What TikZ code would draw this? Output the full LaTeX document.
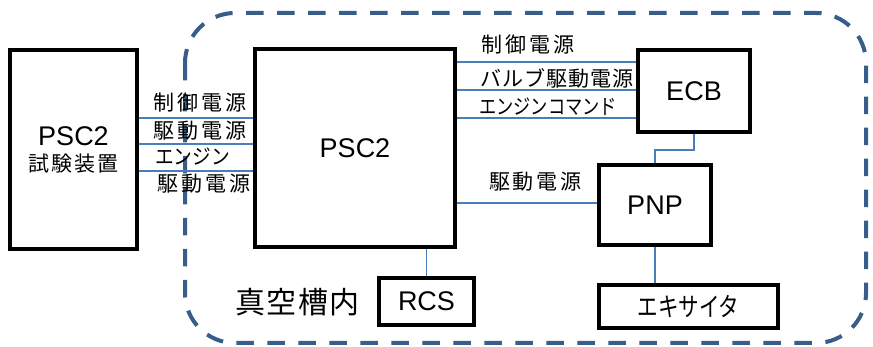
\documentclass[tikz,border=0pt]{standalone}
\usepackage{fontspec}
\usepackage{graphicx}
\setmainfont{Liberation Sans}
\newfontfamily\jpf{Noto Sans CJK JP}
\usetikzlibrary{calc}
\definecolor{conn}{HTML}{4A7EBB}
\definecolor{dashc}{HTML}{385D8A}
\newcommand\jtxt[4]{\scalebox{#3}[1]{\jpf\fontsize{#1}{#1}\selectfont\addfontfeature{LetterSpace=#2}#4}}
\begin{document}
\begin{tikzpicture}[x=1pt,y=-1pt,
  box/.style={draw=black,line width=3.6pt,fill=white,inner sep=0pt,font=\fontsize{27}{30}\selectfont},
  conline/.style={draw=conn,line width=1.5pt},
  lab/.style={inner sep=0pt,anchor=west}]
\useasboundingbox (0,0) rectangle (873,347);
% vacuum chamber outline
\draw[dashc,line width=4pt,dash pattern=on 17.5pt off 13.5pt,rounded corners=50pt] (185,13) rectangle (866,343);
% boxes
\node[box,minimum width=127pt,minimum height=199pt,align=center] (L) at (73.5,149.5)
  {PSC2\\[-4pt]\jtxt{21}{9}{1}{試験装置}};
\node[box,minimum width=200pt,minimum height=198pt] (P) at (355,148) {PSC2};
\node[box,minimum width=112pt,minimum height=82pt] (E) at (694,91) {ECB};
\node[box,minimum width=112pt,minimum height=80pt] (N) at (655,205) {PNP};
\node[box,minimum width=95pt,minimum height=47pt] (R) at (426.5,301.5) {RCS};
\node[box,minimum width=179pt,minimum height=43pt] (X) at (688.5,306.5) {\jtxt{26}{0}{0.79}{エキサイタ}};
\node[lab] (V) at (235,302) {\jtxt{30}{5}{1}{真空槽内}};
% left connectors
\draw[conline] (L.east |- 0,118) -- (P.west |- 0,118);
\draw[conline] (L.east |- 0,144) -- (P.west |- 0,144);
\draw[conline] (L.east |- 0,171) -- (P.west |- 0,171);
\node[lab] (l1) at (153,103) {\jtxt{21}{14}{1}{制御電源}};
\node[lab] (l2) at (153,131) {\jtxt{21}{14}{1}{駆動電源}};
\node[lab] (l3) at (155,157) {\jtxt{21}{0}{0.89}{エンジン}};
\node[lab] (l4) at (157,184) {\jtxt{21}{14}{1}{駆動電源}};
% right connectors
\draw[conline] (P.east |- 0,62) -- (E.west |- 0,62);
\draw[conline] (P.east |- 0,90) -- (E.west |- 0,90);
\draw[conline] (P.east |- 0,118) -- (E.west |- 0,118);
\draw[conline] (P.east |- 0,203) -- (N.west |- 0,203);
\node[lab] (r1) at (481,45) {\jtxt{21}{14}{1}{制御電源}};
\node[lab] (r2) at (480,78) {\jtxt{21}{5}{1}{バルブ駆動電源}};
\node[lab] (r3) at (479,107) {\jtxt{21}{0}{0.82}{エンジンコマンド}};
\node[lab] (r4) at (489,182) {\jtxt{21}{13}{1}{駆動電源}};
% vertical connectors
\draw[conline] (E.south) -- (E.south |- 0,150) -| (N.north);
\draw[conline] (P.south -| R.north) -- (R.north);
\draw[conline] (N.south) -- (N.south |- X.north);
\end{tikzpicture}
\end{document}
